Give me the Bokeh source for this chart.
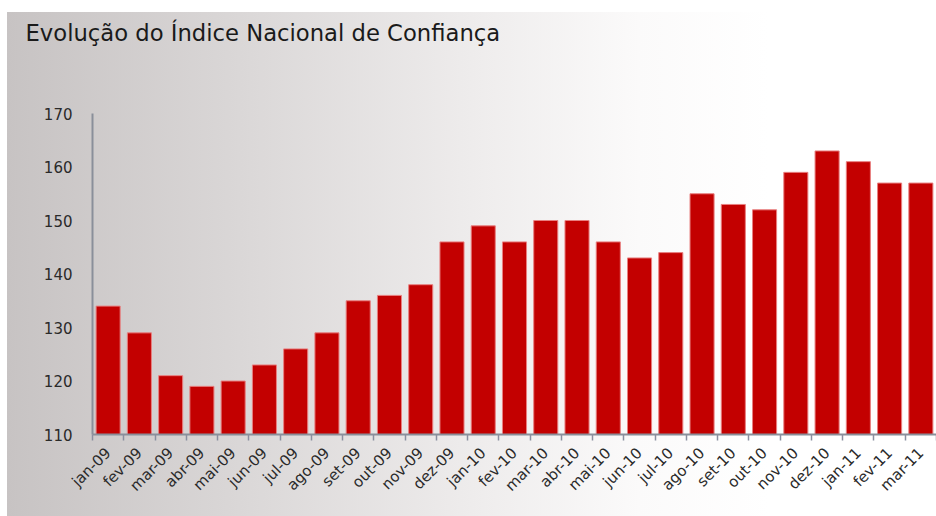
import math
from bokeh.plotting import figure
from bokeh.models import FixedTicker, Range1d, ColumnDataSource, Title
from bokeh.embed import file_html
from bokeh.resources import INLINE

title_text = "Evolução do Índice Nacional de Confiança"
months = ["jan-09", "fev-09", "mar-09", "abr-09", "mai-09", "jun-09", "jul-09",
          "ago-09", "set-09", "out-09", "nov-09", "dez-09", "jan-10", "fev-10",
          "mar-10", "abr-10", "mai-10", "jun-10", "jul-10", "ago-10", "set-10",
          "out-10", "nov-10", "dez-10", "jan-11", "fev-11", "mar-11"]
values = [134, 129, 121, 119, 120, 123, 126, 129, 135, 136, 138, 146, 149, 146,
          150, 150, 146, 143, 144, 155, 153, 152, 159, 163, 161, 157, 157]
y_ticks = [110, 120, 130, 140, 150, 160, 170]

n = len(months)
centers = [i + 0.5 for i in range(n)]
src = ColumnDataSource(dict(x=centers, top=values, month=months))

p = figure(width=929, height=504, output_backend="svg", toolbar_location=None,
           x_range=Range1d(0, n), y_range=Range1d(110, 170),
           min_border_left=85, min_border_right=0, min_border_top=101,
           min_border_bottom=82, title=title_text)
p.margin = (12, 0, 0, 7)
p.styles = {"background": "linear-gradient(to right, #c7c3c3 0%, #dad7d7 25%, #eeecec 50%, #fbfafa 68%, #ffffff 82%)"}
p.border_fill_color = None
p.background_fill_color = None
p.outline_line_color = None
p.grid.visible = False

p.title.text_font = "DejaVu Sans"
p.title.text_font_size = "22.7px"
p.title.text_font_style = "normal"
p.title.text_color = "#1a1a1a"
p.title.align = "left"
p.title.offset = -67
p.title.standoff = 0

# invisible spacer placed between the frame and the title
p.add_layout(Title(text=" ", text_font_size="50px", standoff=10), "above")

p.vbar(x="x", top="top", bottom=110, width=0.77, source=src,
       fill_color="#c30000", line_color="#e88080", line_width=1)

xa = p.xaxis[0]
xa.ticker = FixedTicker(ticks=centers, minor_ticks=list(range(n + 1)))
xa.major_label_overrides = {c: m for c, m in zip(centers, months)}
xa.major_tick_line_color = None
xa.major_tick_out = 0
xa.minor_tick_line_color = "#8a8fa0"
xa.minor_tick_out = 6
xa.minor_tick_in = 0
xa.minor_tick_line_width = 1.5
xa.axis_line_color = "#8a8f9a"
xa.axis_line_width = 2
xa.major_label_orientation = math.pi / 4
xa.major_label_standoff = 10
xa.major_label_text_font = "DejaVu Sans"
xa.major_label_text_font_size = "15px"
xa.major_label_text_color = "#2a2a2a"

ya = p.yaxis[0]
ya.ticker = FixedTicker(ticks=y_ticks)
ya.major_tick_line_color = None
ya.minor_tick_line_color = None
ya.major_tick_out = 0
ya.major_tick_in = 0
ya.axis_line_color = "#8a8f9a"
ya.axis_line_width = 2
ya.major_label_standoff = 20
ya.major_label_text_font = "DejaVu Sans"
ya.major_label_text_font_size = "15px"
ya.major_label_text_color = "#2a2a2a"

open("out.html", "w").write(file_html(p, INLINE))
